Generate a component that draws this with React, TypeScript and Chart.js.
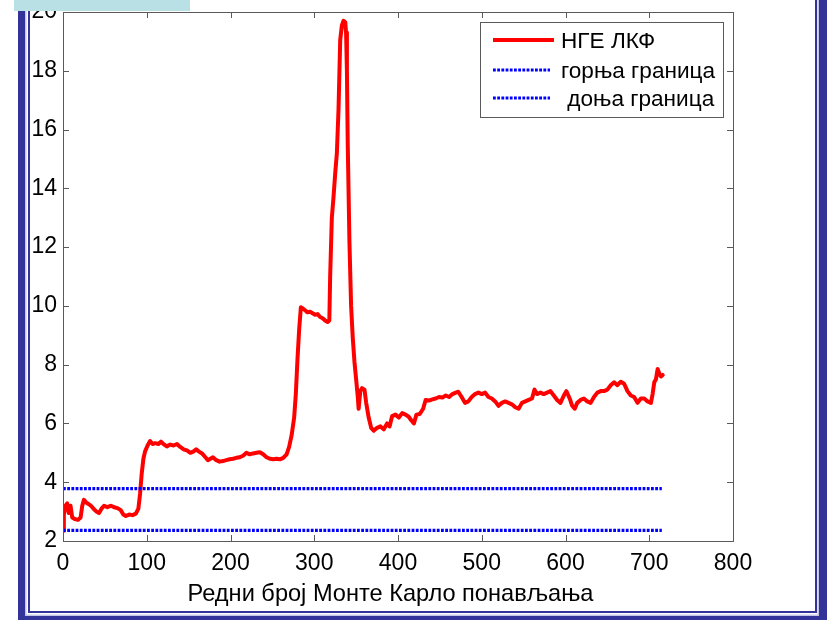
import React, { useEffect, useRef } from "react";
import { Chart, registerables } from "chart.js";

Chart.register(...registerables);

// ---- data ----
const iterX = [
  0, 1, 3, 5, 7, 9, 11, 14, 18, 21, 23, 25, 28, 31, 34, 37, 40, 43, 46, 49, 53, 57, 61, 65, 69, 72, 75, 79, 83, 87,
  90, 92, 94, 96, 98, 101, 104, 107, 110, 114, 117, 120, 124, 128, 132, 136, 140, 144, 148, 152, 156, 159, 162, 166,
  170, 173, 176, 179, 183, 187, 191, 195, 199, 203, 207, 211, 215, 219, 223, 227, 231, 235, 239, 243, 247, 251, 255,
  259, 263, 267, 270, 273, 276, 278, 280, 282, 284, 286, 289, 292, 295, 298, 301, 304, 307, 310, 313, 316, 318, 319,
  321, 323, 325, 327, 329, 331, 333, 335, 337, 338, 339, 340, 342, 344, 346, 348, 350, 352, 353, 355, 357, 360,
  362, 365, 368, 371, 375, 379, 383, 387, 390, 393, 397, 401, 405, 409, 413, 416, 419, 422, 426, 430, 433, 437, 441,
  445, 449, 453, 457, 461, 465, 469, 472, 476, 480, 484, 488, 492, 496, 500, 504, 508, 512, 516, 520, 524, 528, 532,
  536, 540, 544, 548, 552, 556, 560, 563, 566, 570, 574, 578, 582, 586, 590, 594, 598, 601, 605, 608, 611, 614, 618,
  622, 626, 630, 634, 638, 642, 646, 650, 654, 658, 662, 666, 670, 674, 678, 682, 686, 690, 694, 698, 702, 704, 706,
  708, 710, 712, 714, 716,
];
const ngeValues = [
  2.35, 2.9, 3.2, 3.28, 2.95, 3.2, 2.8, 2.75, 2.72, 2.8, 3.2, 3.4, 3.3, 3.25, 3.18, 3.08, 3.0, 2.95, 3.1, 3.2, 3.15,
  3.2, 3.15, 3.12, 3.05, 2.9, 2.85, 2.9, 2.88, 2.93, 3.1, 3.6, 4.3, 4.8, 5.05, 5.25, 5.4, 5.3, 5.33, 5.3, 5.38, 5.3,
  5.22, 5.28, 5.25, 5.3, 5.2, 5.12, 5.08, 5.0, 5.05, 5.12, 5.05, 4.98, 4.85, 4.75, 4.8, 4.85, 4.75, 4.7, 4.72, 4.75,
  4.78, 4.8, 4.83, 4.85, 4.9, 5.0, 4.95, 4.98, 5.0, 5.02, 4.95, 4.85, 4.8, 4.78, 4.8, 4.78, 4.83, 4.95, 5.2, 5.6, 6.2,
  7.0, 8.2, 9.2, 9.95, 9.92, 9.85, 9.78, 9.8, 9.75, 9.7, 9.72, 9.62, 9.58, 9.5, 9.45, 9.5, 11.0, 13.0, 13.7, 14.5,
  15.2, 16.7, 19.05, 19.55, 19.7, 19.65, 19.3, 18.0, 15.5, 12.2, 10.0, 8.9, 8.1, 7.5, 6.9, 6.5, 7.1, 7.2, 7.15, 6.7,
  6.2, 5.85, 5.75, 5.85, 5.9, 5.8, 6.0, 5.9, 6.25, 6.3, 6.2, 6.35, 6.3, 6.22, 6.1, 6.0, 6.3, 6.32, 6.5, 6.8, 6.78,
  6.82, 6.85, 6.9, 6.88, 6.95, 6.9, 7.0, 7.05, 7.08, 6.9, 6.7, 6.75, 6.9, 7.0, 7.05, 7.0, 7.05, 6.9, 6.85, 6.75, 6.6,
  6.7, 6.75, 6.7, 6.65, 6.55, 6.5, 6.7, 6.75, 6.8, 6.85, 7.15, 7.0, 7.05, 7.0, 7.05, 7.1, 6.95, 6.8, 6.7, 6.95, 7.1,
  6.85, 6.6, 6.5, 6.7, 6.8, 6.85, 6.75, 6.7, 6.9, 7.05, 7.1, 7.1, 7.15, 7.3, 7.4, 7.3, 7.42, 7.35, 7.1, 6.95, 6.9,
  6.7, 6.85, 6.85, 6.75, 6.7, 7.0, 7.4, 7.5, 7.85, 7.7, 7.6, 7.65,
];
const boundX = [0, 715];
const upperBound = [3.78, 3.78];
const lowerBound = [2.36, 2.36];

const seriesLabels = ["НГЕ ЛКФ", "горња граница", " доња граница"];
const xAxisTitle = "Редни број Монте Карло понављања";
const xMin = 0;
const xMax = 800;
const xStep = 100;
const yMin = 2;
const yMax = 20;
const yStep = 2;

const FONT = "'Liberation Sans', Arial, Helvetica, sans-serif";
const RED = "#ff0000";
const BLUE = "#0000ff";
const FRAME = "#333399";
const DOT_DASH = [2.8, 1.4];

const decorPlugin = {
  id: "decor",
  beforeDraw(chart: any) {
    const ctx = chart.ctx;
    ctx.save();
    ctx.fillStyle = "#ffffff";
    ctx.fillRect(0, 0, chart.width, chart.height);
    ctx.restore();
  },
  afterDraw(chart: any) {
    const ctx: CanvasRenderingContext2D = chart.ctx;
    const { left, right, top, bottom } = chart.chartArea;
    const xs = chart.scales.x;
    const ys = chart.scales.y;
    ctx.save();

    // axes box
    ctx.strokeStyle = "#5a5a5a";
    ctx.lineWidth = 1;
    ctx.strokeRect(Math.round(left) + 0.5, Math.round(top) + 0.5, Math.round(right - left), Math.round(bottom - top));

    // inward ticks on all four sides
    const tl = 6;
    ctx.beginPath();
    xs.ticks.forEach((t: any) => {
      const px = Math.round(xs.getPixelForValue(t.value)) + 0.5;
      ctx.moveTo(px, bottom);
      ctx.lineTo(px, bottom - tl);
      ctx.moveTo(px, top);
      ctx.lineTo(px, top + tl);
    });
    ys.ticks.forEach((t: any) => {
      const py = Math.round(ys.getPixelForValue(t.value)) + 0.5;
      ctx.moveTo(left, py);
      ctx.lineTo(left + tl, py);
      ctx.moveTo(right, py);
      ctx.lineTo(right - tl, py);
    });
    ctx.stroke();

    // legend
    const lx = 480.5, ly = 22.5, lw = 243, lh = 95;
    ctx.fillStyle = "#ffffff";
    ctx.fillRect(lx, ly, lw, lh);
    ctx.strokeStyle = "#5a5a5a";
    ctx.lineWidth = 1;
    ctx.strokeRect(lx, ly, lw, lh);
    const rows = [40, 70, 98];
    const ds = chart.data.datasets;
    ctx.font = `22.6px ${FONT}`;
    ctx.textBaseline = "middle";
    ctx.textAlign = "left";
    ds.forEach((d: any, i: number) => {
      const y = rows[i];
      ctx.beginPath();
      ctx.strokeStyle = d.borderColor;
      ctx.lineWidth = d.borderWidth;
      ctx.setLineDash(d.borderDash || []);
      ctx.lineCap = "butt";
      ctx.moveTo(493, y);
      ctx.lineTo(i === 0 ? 554 : 550, y);
      ctx.stroke();
      ctx.setLineDash([]);
      ctx.fillStyle = "#000000";
      ctx.fillText(d.label, 561, y + 2);
    });

    // x axis title
    ctx.font = `23.6px ${FONT}`;
    ctx.fillStyle = "#000000";
    ctx.textAlign = "center";
    ctx.textBaseline = "alphabetic";
    ctx.fillText(xAxisTitle, 390.5, 601);

    // slide frame
    ctx.fillStyle = FRAME;
    ctx.fillRect(18, 0, 7, 620);
    ctx.fillRect(18, 616, 809, 4);
    ctx.fillRect(819, 0, 8, 620);
    ctx.fillRect(28, 0, 2, 613);
    ctx.fillRect(28, 611, 789, 2);
    ctx.fillRect(815, 0, 2, 613);
    ctx.fillStyle = "#c4c4e6";
    ctx.fillRect(25, 0, 1.5, 616);
    ctx.fillRect(25, 614.5, 794, 1.5);
    ctx.fillRect(817.5, 0, 1.5, 616);

    // light blue tab at top-left
    ctx.fillStyle = "#b9e0e4";
    ctx.fillRect(14, 0, 176, 11);

    ctx.restore();
  },
};

export default function App() {
  const canvasRef = useRef<HTMLCanvasElement | null>(null);

  useEffect(() => {
    if (!canvasRef.current) return;
    const chart = new Chart(canvasRef.current, {
      type: "line",
      data: {
        datasets: [
          {
            label: seriesLabels[0],
            data: iterX.map((x, i) => ({ x, y: ngeValues[i] })),
            borderColor: RED,
            borderWidth: 4,
            pointRadius: 0,
            tension: 0,
            borderJoinStyle: "round",
            borderCapStyle: "round",
            order: 3,
          },
          {
            label: seriesLabels[1],
            data: boundX.map((x, i) => ({ x, y: upperBound[i] })),
            borderColor: BLUE,
            borderWidth: 3.2,
            borderDash: DOT_DASH,
            pointRadius: 0,
            order: 1,
          },
          {
            label: seriesLabels[2],
            data: boundX.map((x, i) => ({ x, y: lowerBound[i] })),
            borderColor: BLUE,
            borderWidth: 3.2,
            borderDash: DOT_DASH,
            pointRadius: 0,
            order: 2,
          },
        ],
      },
      options: {
        animation: false,
        responsive: false,
        devicePixelRatio: 1,
        layout: { padding: { left: 0, top: 12, right: 94, bottom: 0 } },
        plugins: {
          legend: { display: false },
          tooltip: { enabled: false },
          title: { display: false },
        },
        scales: {
          x: {
            type: "linear",
            min: xMin,
            max: xMax,
            grid: { display: false, drawTicks: false },
            border: { display: false },
            ticks: {
              stepSize: xStep,
              color: "#000000",
              font: { family: FONT, size: 23 },
              padding: 9,
              maxRotation: 0,
              autoSkip: false,
            },
            afterFit: (s: any) => {
              s.height = 79;
              s.paddingLeft = 0;
              s.paddingRight = 0;
            },
          },
          y: {
            type: "linear",
            min: yMin,
            max: yMax,
            grid: { display: false, drawTicks: false },
            border: { display: false },
            ticks: {
              stepSize: yStep,
              color: "#000000",
              font: { family: FONT, size: 23 },
              padding: 6,
            },
            afterFit: (s: any) => {
              s.width = 63;
              s.paddingTop = 0;
              s.paddingBottom = 0;
            },
          },
        },
      },
      plugins: [decorPlugin],
    });
    return () => chart.destroy();
  }, []);

  return (
    <div style={{ position: "absolute", left: 0, top: 0, width: 827, height: 620, background: "#fff" }}>
      <canvas ref={canvasRef} width={827} height={620} style={{ display: "block" }} />
    </div>
  );
}
